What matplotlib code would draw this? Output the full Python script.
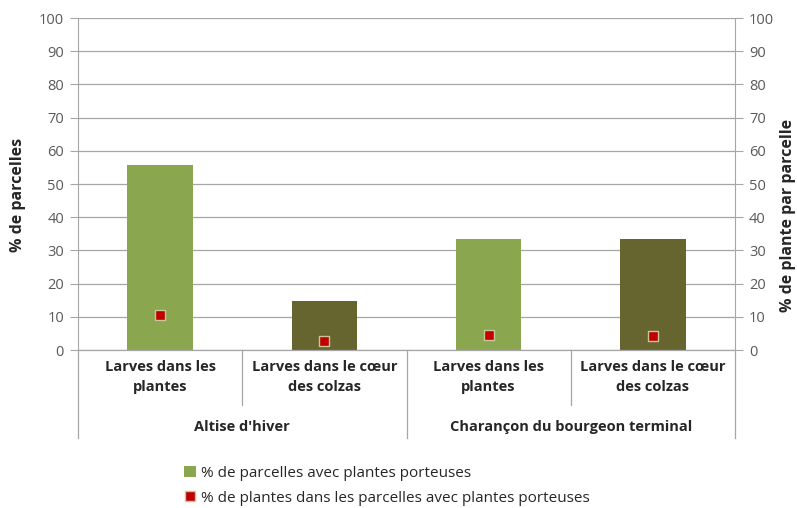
import numpy as np
import matplotlib.pyplot as plt
import matplotlib.transforms as mtransforms
from matplotlib.lines import Line2D
from matplotlib.patches import Patch

plt.rcParams['font.family'] = ['Open Sans', 'DejaVu Sans']

# Data
groups = ["Altise d'hiver", "Charançon du bourgeon terminal"]
sub_labels = ["Larves dans les\nplantes", "Larves dans le cœur\ndes colzas",
              "Larves dans les\nplantes", "Larves dans le cœur\ndes colzas"]
pct_parcelles = [55.6, 14.8, 33.3, 33.3]
pct_plantes = [10.6, 2.8, 4.6, 4.3]

bar_colors = ['#8AA64E', '#666530', '#8AA64E', '#666530']
grid_col = '#A6A6A6'
tick_col = '#595959'
text_col = '#262626'

W, H = 797, 508
fig = plt.figure(figsize=(W / 100, H / 100), dpi=100)
ax = fig.add_axes([78 / W, (H - 350) / H, (735 - 78) / W, 332 / H])
ax2 = ax.twinx()

x = np.arange(len(pct_parcelles))
ax.bar(x, pct_parcelles, width=0.4, color=bar_colors, zorder=2)
ax2.scatter(x, pct_plantes, marker='s', s=55, color='#C00000',
            edgecolors='#C9C79A', linewidths=1.0, zorder=3)

for a in (ax, ax2):
    a.set_ylim(0, 100)
    a.set_yticks(np.arange(0, 101, 10))
    a.set_xlim(-0.5, len(x) - 0.5)
    for s in a.spines.values():
        s.set_visible(False)
    a.tick_params(axis='y', length=6, width=0.8, color=grid_col,
                  labelcolor=tick_col, labelsize=10.5, pad=4)

ax.yaxis.grid(True, color=grid_col, linewidth=0.9, zorder=0)
ax.set_axisbelow(True)
ax.set_xticks([])
ax.spines['left'].set_visible(True)
ax.spines['left'].set_color(grid_col)
ax2.spines['right'].set_visible(True)
ax2.spines['right'].set_color(grid_col)

# axis titles placed by hand
fig.text(18 / W, 1 - 195 / H, '% de parcelles', rotation=90, ha='center', va='center',
         fontsize=11.5, fontweight='bold', color=text_col)
fig.text(788 / W, 1 - 215 / H, '% de plante par parcelle', rotation=90, ha='center',
         va='center', fontsize=11.5, fontweight='bold', color=text_col)

# hierarchical category axis
trans = mtransforms.blended_transform_factory(ax.transData, ax.transAxes)
line_kw = dict(color=grid_col, linewidth=0.9, clip_on=False, transform=trans)
ax.plot([-0.5, len(x) - 0.5], [0, 0], **line_kw)
for xb in [-0.5, 1.5, 3.5]:
    ax.plot([xb, xb], [0, -0.265], **line_kw)
for xb in [0.5, 2.5]:
    ax.plot([xb, xb], [0, -0.166], **line_kw)

for xi, lab in zip(x, sub_labels):
    ax.text(xi, -0.03, lab, transform=trans, ha='center', va='top',
            fontsize=10.5, fontweight='bold', color=text_col, linespacing=1.55)
for gi, g in enumerate(groups):
    ax.text(gi * 2 + 0.5, -0.232, g, transform=trans, ha='center', va='center',
            fontsize=10.5, fontweight='bold', color=text_col)

handles = [Patch(facecolor='#8AA64E', edgecolor='none'),
           Line2D([], [], marker='s', linestyle='none', markersize=7,
                  markerfacecolor='#C00000', markeredgecolor='#C9C79A')]
labels = ['% de parcelles avec plantes porteuses',
          '% de plantes dans les parcelles avec plantes porteuses']
fig.legend(handles, labels, loc='upper left', bbox_to_anchor=(170 / W, 1 - 452 / H),
           frameon=False, fontsize=11, handlelength=0.8, handleheight=0.8,
           handletextpad=0.3, labelspacing=0.65, labelcolor=text_col)

fig.savefig('out.png', dpi=100)
